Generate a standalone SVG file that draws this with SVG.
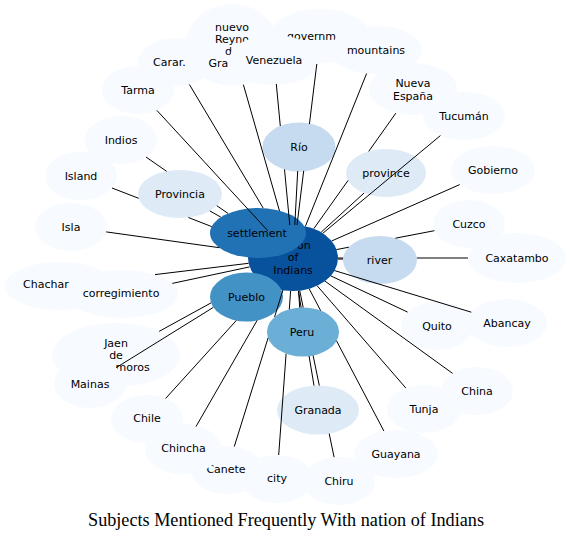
<svg xmlns="http://www.w3.org/2000/svg" width="572" height="541" viewBox="0 0 572 541">
<style>
text{font-family:"DejaVu Sans",sans-serif;font-size:11px;fill:#000;text-anchor:middle}
text.s{text-anchor:start}
.l0{fill:#f7fbff}
.l1{fill:#deebf7}
.l2{fill:#c6dbef}
.l3{fill:#6baed6}
.l4{fill:#4292c6}
.l5{fill:#2171b5}
.l6{fill:#08519c}
#edges path{stroke:#000;stroke-width:1;fill:none}
text.title{font-family:"Liberation Serif",serif;font-size:18.2px}
</style>
<rect width="572" height="541" fill="#fff"/>
<g id="nodes">
<g id="n-tarma"><ellipse class="l0" cx="138" cy="90" rx="36" ry="24"/><text x="138" y="94">Tarma</text></g>
<g id="n-carar"><ellipse class="l0" cx="176" cy="62" rx="38" ry="24"/><text class="s" x="153" y="66">Carar.</text></g>
<g id="n-nuevo"><ellipse class="l0" cx="232" cy="45" rx="46" ry="41"/><text x="232" y="30.7">nuevo</text><text x="232" y="43">Reyno</text><text class="s" x="225" y="55">d</text><text class="s" x="208.4" y="67">Gra</text></g>
<g id="n-government"><ellipse class="l0" cx="320" cy="36" rx="50" ry="27"/><text class="s" x="287" y="40">governm</text></g>
<g id="n-venezuela"><ellipse class="l0" cx="274" cy="60" rx="45" ry="25"/><text x="274" y="64">Venezuela</text></g>
<g id="n-mountains"><ellipse class="l0" cx="376" cy="50" rx="46" ry="24"/><text x="376" y="54">mountains</text></g>
<g id="n-nueva"><ellipse class="l0" cx="413" cy="89" rx="44" ry="26"/><text x="413" y="87.3">Nueva</text><text x="413" y="99.5">España</text></g>
<g id="n-tucuman"><ellipse class="l0" cx="464" cy="116" rx="41" ry="24"/><text x="464" y="120">Tucumán</text></g>
<g id="n-gobierno"><ellipse class="l0" cx="493" cy="170" rx="42" ry="24"/><text x="493" y="174">Gobierno</text></g>
<g id="n-cuzco"><ellipse class="l0" cx="469" cy="224" rx="36" ry="24"/><text x="469" y="228">Cuzco</text></g>
<g id="n-caxatambo"><ellipse class="l0" cx="517" cy="258" rx="49" ry="25"/><text x="517" y="262">Caxatambo</text></g>
<g id="n-abancay"><ellipse class="l0" cx="507" cy="323" rx="40" ry="24"/><text x="507" y="327">Abancay</text></g>
<g id="n-quito"><ellipse class="l0" cx="437" cy="326" rx="36" ry="24"/><text x="437" y="330">Quito</text></g>
<g id="n-china"><ellipse class="l0" cx="477" cy="391" rx="36" ry="24"/><text x="477" y="395">China</text></g>
<g id="n-tunja"><ellipse class="l0" cx="424" cy="409" rx="37" ry="24"/><text x="424" y="413">Tunja</text></g>
<g id="n-guayana"><ellipse class="l0" cx="396" cy="454" rx="42" ry="24"/><text x="396" y="458">Guayana</text></g>
<g id="n-chiru"><ellipse class="l0" cx="339" cy="481" rx="36" ry="24"/><text x="339" y="485">Chiru</text></g>
<g id="n-city"><ellipse class="l0" cx="277" cy="479" rx="36" ry="24"/><text x="277" y="482">city</text></g>
<g id="n-canete"><ellipse class="l0" cx="227" cy="470" rx="36" ry="24"/><text x="226" y="473">Canete</text></g>
<g id="n-chincha"><ellipse class="l0" cx="183" cy="449" rx="38" ry="25.5"/><text x="183.5" y="452">Chincha</text></g>
<g id="n-chile"><ellipse class="l0" cx="147" cy="419" rx="36" ry="24"/><text x="147" y="422">Chile</text></g>
<g id="n-jaen"><ellipse class="l0" cx="116" cy="355" rx="64" ry="32"/><text x="116" y="347.3">Jaen</text><text x="116" y="359.3">de</text><text class="s" x="115.5" y="371">moros</text></g>
<g id="n-mainas"><ellipse class="l0" cx="90" cy="384" rx="36" ry="24"/><text x="90" y="388">Mainas</text></g>
<g id="n-chachar"><ellipse class="l0" cx="60" cy="286" rx="55" ry="24"/><text class="s" x="23" y="288">Chachar</text></g>
<g id="n-corregimiento"><ellipse class="l0" cx="122" cy="294" rx="56" ry="24"/><text x="121" y="296.5">corregimiento</text></g>
<g id="n-isla"><ellipse class="l0" cx="71" cy="227" rx="36" ry="24"/><text x="71" y="231">Isla</text></g>
<g id="n-island"><ellipse class="l0" cx="81" cy="176" rx="36" ry="24"/><text x="81" y="179.5">Island</text></g>
<g id="n-indios"><ellipse class="l0" cx="121" cy="140" rx="36" ry="24"/><text x="121" y="144">Indios</text></g>
<g id="n-nation"><ellipse class="l6" cx="293" cy="258" rx="45" ry="33"/><text class="s" x="297" y="249">on</text><text x="293" y="261">of</text><text x="293" y="273.5">Indians</text></g>
<g id="n-settlement"><ellipse class="l5" cx="258" cy="233" rx="48" ry="25"/><text x="257" y="236.5">settlement</text></g>
<g id="n-province"><ellipse class="l1" cx="386" cy="173" rx="40" ry="24"/><text x="386" y="177">province</text></g>
<g id="n-provincia"><ellipse class="l1" cx="180" cy="194" rx="42" ry="24"/><text x="180" y="197.5">Provincia</text></g>
<g id="n-pueblo"><ellipse class="l4" cx="246.5" cy="297" rx="36.5" ry="24.5"/><text x="246.5" y="300.5">Pueblo</text></g>
<g id="n-peru"><ellipse class="l3" cx="303" cy="332" rx="36" ry="24.5"/><text x="302" y="335.5">Peru</text></g>
<g id="n-rio"><ellipse class="l2" cx="299" cy="147" rx="36.5" ry="24.5"/><text x="299" y="151">Río</text></g>
<g id="n-river"><ellipse class="l2" cx="380" cy="260" rx="37" ry="24"/><text x="379.5" y="264">river</text></g>
<g id="n-granada"><ellipse class="l1" cx="318" cy="410" rx="41" ry="24.5"/><text x="318" y="414">Granada</text></g>
</g>
<g id="edges">
<path d="M156.9,110.4L267.8,230.7"/>
<path d="M189.4,84.5L263.2,208.1"/>
<path d="M243.4,84.7L279.5,211"/>
<path d="M276.3,84L280.3,126M284.5,169.4L289.8,225.1"/>
<path d="M316.8,64L309.4,124.1M303.7,170.8L297,225.1"/>
<path d="M297.7,171L294.8,225"/>
<path d="M366.6,73.5L305.4,226.3"/>
<path d="M395.9,113.1L368.7,151.4M348.1,180.4L313.8,228.7"/>
<path d="M364,193.1L321.2,232.2"/>
<path d="M440.4,135.6L322.8,233.3"/>
<path d="M459.7,184.6L331.6,241"/>
<path d="M434.4,230.7L395.4,238.2M348.8,247.2L336.5,249.6"/>
<path d="M468,258L416.9,258M343.1,258L338,258"/>
<path d="M343,259.1L338,259"/>
<path d="M471.3,312.2L334.6,270.6"/>
<path d="M407.6,312.1L330.8,275.9"/>
<path d="M452.6,373.4L325.1,281.2"/>
<path d="M405.9,388.1L317.2,285.8"/>
<path d="M383.9,431L336.5,340.8M320.7,310.7L309.2,288.8"/>
<path d="M334.1,457.2L329.2,433.6M319.3,385.6L313.1,355.5M303.2,307.5L299.7,290.6"/>
<path d="M314,385.6L309.1,356.1M301.1,307.6L298.4,290.8"/>
<path d="M299.7,307.6L298.6,291.2"/>
<path d="M278.7,455L286.1,353.7M289.3,309.3L290.6,290.9"/>
<path d="M234.3,446.5L268.1,337.9M274.6,316.9L283,289.8"/>
<path d="M196,426.5L257.1,320.4"/>
<path d="M165.6,398.5L236.3,320.5"/>
<path d="M116.3,367.6L213.3,307.4"/>
<path d="M159.1,331.4L211,302.9"/>
<path d="M155,274.6L248.6,263.3"/>
<path d="M172.3,283.4L249.7,266.9"/>
<path d="M106.2,231.9L219.4,247.7"/>
<path d="M112,188L138.7,198.3M188.4,217.5L211.7,226.6"/>
<path d="M146,157L166.6,171.3M216.8,205.7L228,213.4"/>
<path d="M209.8,210.9L220.8,217.1"/>
</g>
<text class="title" x="286" y="526">Subjects Mentioned Frequently With nation of Indians</text>
</svg>
